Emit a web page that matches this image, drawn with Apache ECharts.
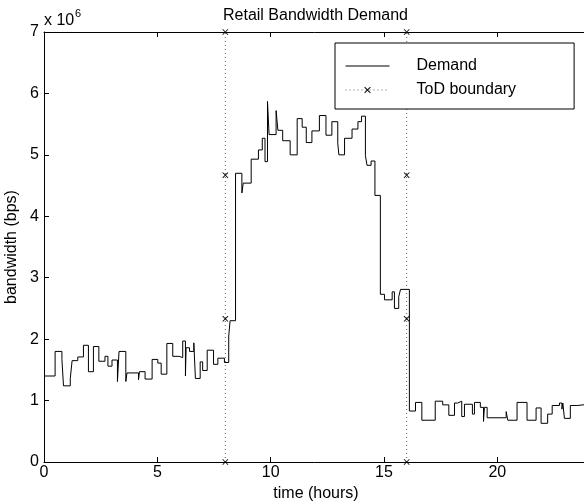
<!DOCTYPE html>
<html>
<head>
<meta charset="utf-8">
<script src="https://cdn.jsdelivr.net/npm/echarts@6/dist/echarts.min.js"></script>
<style>
html,body{margin:0;padding:0;background:#fff;}
#chart{width:584px;height:503px;}
</style>
</head>
<body>
<div id="chart"></div>
<script>
// time of each step change (hours)
const hours = [0.00,0.49,0.79,0.86,1.16,1.24,1.49,1.74,1.96,2.18,2.42,2.69,2.82,3.00,3.24,3.31,3.61,3.66,4.17,4.21,
  4.46,4.77,5.02,5.17,5.42,5.68,5.95,6.12,6.24,6.27,6.42,6.61,6.68,6.89,7.00,7.20,7.48,7.67,7.96,8.15,
  8.21,8.45,8.73,8.79,9.14,9.46,9.63,9.75,9.86,9.93,10.24,10.32,10.53,10.86,11.17,11.39,11.57,11.82,12.15,12.44,
  12.70,12.96,13.01,13.26,13.59,13.85,14.01,14.18,14.25,14.43,14.60,14.84,15.02,15.36,15.46,15.65,15.73,16.12,16.39,16.67,
  17.26,17.59,17.86,18.11,18.25,18.43,18.55,18.90,18.99,19.25,19.39,19.43,19.55,20.39,20.46,20.87,21.31,21.71,21.93,22.22,
  22.42,22.74,22.85,22.89,22.96,23.22,23.55,24.00];
// demand (units of 10^6 bps) held from each step time
const demand = [1.40,1.80,1.67,1.24,1.36,1.65,1.71,1.90,1.47,1.88,1.64,1.72,1.56,1.66,1.31,1.80,1.31,1.45,1.34,1.47,
  1.35,1.67,1.61,1.43,1.93,1.72,1.70,1.97,1.40,1.86,1.80,1.94,1.36,1.63,1.49,1.82,1.59,1.69,1.62,2.05,
  2.30,4.70,4.38,4.54,4.93,5.08,5.27,4.89,5.87,5.33,5.72,5.40,5.23,5.00,5.59,5.45,5.20,5.39,5.64,5.32,
  5.54,5.19,5.00,5.27,5.42,5.54,5.63,4.99,4.83,4.90,4.34,2.73,2.64,2.77,2.50,2.69,2.81,0.83,0.97,0.68,
  0.99,0.93,0.76,0.96,0.99,0.74,0.94,0.78,0.97,0.89,0.66,0.89,0.72,0.82,0.68,0.97,0.68,0.88,0.63,0.78,
  0.92,0.96,0.86,0.96,0.71,0.92,0.94,0.94];
// ToD boundaries (hours) and the marker levels along them (10^6 bps)
const todHours = [8, 16];
const todLevels = [0, 2.33, 4.67, 7];
const xTicks = [0, 5, 10, 15, 20];
const yTicks = [0, 1, 2, 3, 4, 5, 6, 7];

const FONT = "'Liberation Sans', Arial, Helvetica, sans-serif";
const xMark = 'path://M0,1L1,0L5,4L9,0L10,1L6,5L10,9L9,10L5,6L1,10L0,9L4,5Z';

const chart = echarts.init(document.getElementById('chart'), null, {renderer: 'canvas'});

const series = [{
  name: 'Demand',
  type: 'line',
  step: 'end',
  symbol: 'none',
  showSymbol: false,
  animation: false,
  lineStyle: {color: '#000', width: 1},
  itemStyle: {color: '#000'},
  data: hours.map((h, i) => [h, demand[i]]),
  z: 3
}];
todHours.forEach(t => {
  series.push({
    name: 'ToD boundary',
    type: 'line',
    symbol: xMark,
    symbolSize: 6,
    showSymbol: true,
    clip: false,
    animation: false,
    lineStyle: {color: '#666', width: 1, type: [1, 3]},
    itemStyle: {color: '#000'},
    data: todLevels.map(v => [t, v]),
    z: 2
  });
});

chart.setOption({
  animation: false,
  backgroundColor: '#fff',
  title: {
    text: 'Retail Bandwidth Demand',
    left: 218, top: 3,
    textStyle: {fontFamily: FONT, fontSize: 16, fontWeight: 'normal', color: '#000'}
  },
  legend: {
    data: [
      {name: 'Demand', itemStyle: {color: 'rgba(0,0,0,0)', borderWidth: 0}, lineStyle: {width: 1, color: '#000'}},
      {name: 'ToD boundary', lineStyle: {width: 1, color: '#666'}}
    ],
    orient: 'vertical',
    left: 335, top: 43,
    itemWidth: 44, itemHeight: 8, itemGap: 8,
    padding: [15, 58, 11, 10],
    backgroundColor: '#fff',
    borderColor: '#000', borderWidth: 1,
    textStyle: {fontFamily: FONT, fontSize: 16, color: '#000', padding: [0, 0, 0, 22]}
  },
  graphic: [
    {type: 'text', left: 44, top: 13, style: {text: 'x 10', font: '16px ' + FONT, fill: '#000'}},
    {type: 'text', left: 75, top: 8, style: {text: '6', font: '11px ' + FONT, fill: '#000'}}
  ],
  grid: {left: 44, right: -4, top: 32, bottom: 41, containLabel: false, outerBoundsMode: 'none'},
  xAxis: [{
    type: 'value', min: 0, max: 24, interval: xTicks[1] - xTicks[0],
    name: 'time (hours)', nameLocation: 'middle', nameGap: 23,
    nameTextStyle: {fontFamily: FONT, fontSize: 16, color: '#000'},
    axisLine: {lineStyle: {color: '#000', width: 1}},
    axisTick: {inside: true, length: 5, lineStyle: {color: '#000'}},
    axisLabel: {fontFamily: FONT, fontSize: 16, color: '#000', margin: 3, showMaxLabel: false,
      formatter: v => xTicks.includes(v) ? String(v) : ''},
    splitLine: {show: false}
  }, {
    type: 'value', min: 0, max: 24, interval: 5, position: 'top',
    axisLine: {show: true, lineStyle: {color: '#000', width: 1}},
    axisTick: {inside: true, length: 5, lineStyle: {color: '#000'}},
    axisLabel: {show: false}, splitLine: {show: false}
  }],
  yAxis: [{
    type: 'value', min: 0, max: 7, interval: 1,
    name: 'bandwidth (bps)', nameLocation: 'middle', nameGap: 24, nameRotate: 90,
    nameTextStyle: {fontFamily: FONT, fontSize: 16, color: '#000'},
    axisLine: {show: true, lineStyle: {color: '#000', width: 1}},
    axisTick: {inside: true, length: 5, lineStyle: {color: '#000'}},
    axisLabel: {fontFamily: FONT, fontSize: 16, color: '#000', margin: 5,
      formatter: v => yTicks.includes(v) ? String(v) : ''},
    splitLine: {show: false}
  }],
  series: series
});
</script>
</body>
</html>
